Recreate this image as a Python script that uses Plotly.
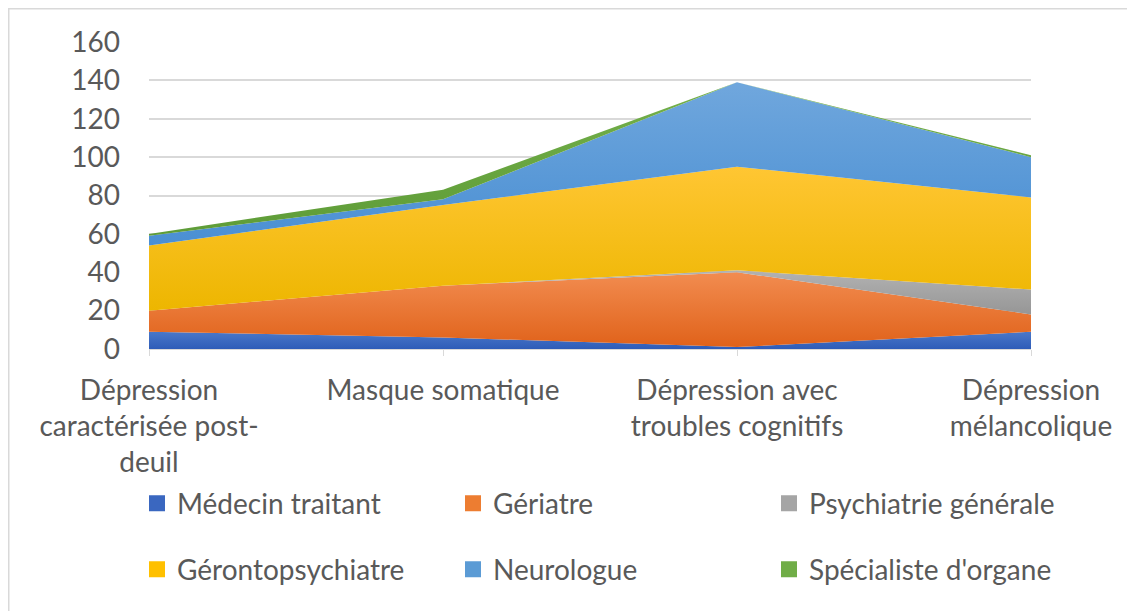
import plotly.graph_objects as go

categories = ["Dépression caractérisée post-deuil", "Masque somatique",
              "Dépression avec troubles cognitifs", "Dépression mélancolique"]
tick_labels = ["Dépression<br>caractérisée post-<br>deuil", "Masque somatique",
               "Dépression avec<br>troubles cognitifs", "Dépression<br>mélancolique"]

medecin_traitant = [9, 6, 1, 9]
geriatre = [11, 27, 39, 9]
psychiatrie_generale = [0, 0, 1, 13]
gerontopsychiatre = [34, 42, 54, 48]
neurologue = [5, 3, 44, 21]
specialiste_organe = [1, 5, 0, 1]

series = [
    ("Médecin traitant", medecin_traitant, "#2E5CB8", "#4A78C9", "#3A67C0"),
    ("Gériatre", geriatre, "#E0621A", "#F28C50", "#ED7D31"),
    ("Psychiatrie générale", psychiatrie_generale, "#969696", "#B2B2B2", "#A5A5A5"),
    ("Gérontopsychiatre", gerontopsychiatre, "#EDB600", "#FFC633", "#FFC000"),
    ("Neurologue", neurologue, "#4A8FD3", "#70A7DD", "#5B9BD5"),
    ("Spécialiste d'organe", specialiste_organe, "#5E9C37", "#74B04B", "#70AD47"),
]

x = list(range(len(categories)))
FONT = "Lato, 'Open Sans', sans-serif"
TXT = "#595959"
FS = 28

fig = go.Figure()
cum = [0] * len(x)
for name, vals, dark, light, solid in series:
    lower = cum[:]
    cum = [c + v for c, v in zip(cum, vals)]
    fig.add_trace(go.Scatter(
        x=x, y=vals, name=name, stackgroup="one", mode="lines",
        line=dict(width=0, color=solid),
        fillcolor=solid,
        fillgradient=dict(type="vertical", start=min(lower), stop=max(cum),
                          colorscale=[[0, dark], [1, light]]),
        showlegend=False, hoverinfo="skip",
    ))

for i, (name, vals, dark, light, solid) in enumerate(series):
    fig.add_trace(go.Scatter(
        x=[None], y=[None], name=name, mode="markers",
        marker=dict(symbol="square", size=17, color=solid),
        legend="legend" if i < 3 else "legend2",
    ))

# plot area in figure pixels: x 141..1023, y 34..341
L, T, W, H = 141, 34, 882, 307
leg_common = dict(orientation="h", xanchor="left", yanchor="middle",
                  traceorder="normal", entrywidth=271, entrywidthmode="pixels",
                  font=dict(family=FONT, size=FS, color=TXT), bgcolor="rgba(0,0,0,0)")

fig.update_layout(
    width=1135, height=611,
    margin=dict(l=L, r=1135 - L - W, t=T, b=611 - T - H),
    paper_bgcolor="white", plot_bgcolor="white",
    font=dict(family=FONT, size=FS, color=TXT),
    xaxis=dict(
        range=[0, 3], tickvals=x, ticktext=tick_labels,
        showgrid=False, zeroline=False, showline=True, linecolor="#D9D9D9",
        ticks="outside", ticklen=6, tickcolor="#D9D9D9",
        tickfont=dict(family=FONT, size=FS, color=TXT),
        ticklabelstandoff=10,
    ),
    yaxis=dict(
        range=[0, 160], dtick=20, showgrid=True, gridcolor="#D9D9D9", gridwidth=1.5,
        zeroline=False, showline=False, ticks="",
        tickfont=dict(family=FONT, size=FS, color=TXT),
        ticklabelstandoff=28,
    ),
    legend=dict(x=-12 / W, y=-0.5035, **leg_common),
    legend2=dict(x=-12 / W, y=-0.7185, **leg_common),
    shapes=[dict(type="rect", xref="paper", yref="paper",
                 x0=(0.75 - L) / W, x1=1.3, y0=-1.2, y1=(T + H - 0.75) / H,
                 line=dict(color="#D9D9D9", width=1.5), fillcolor="rgba(0,0,0,0)",
                 layer="below")],
)

fig.write_html("out.html")
